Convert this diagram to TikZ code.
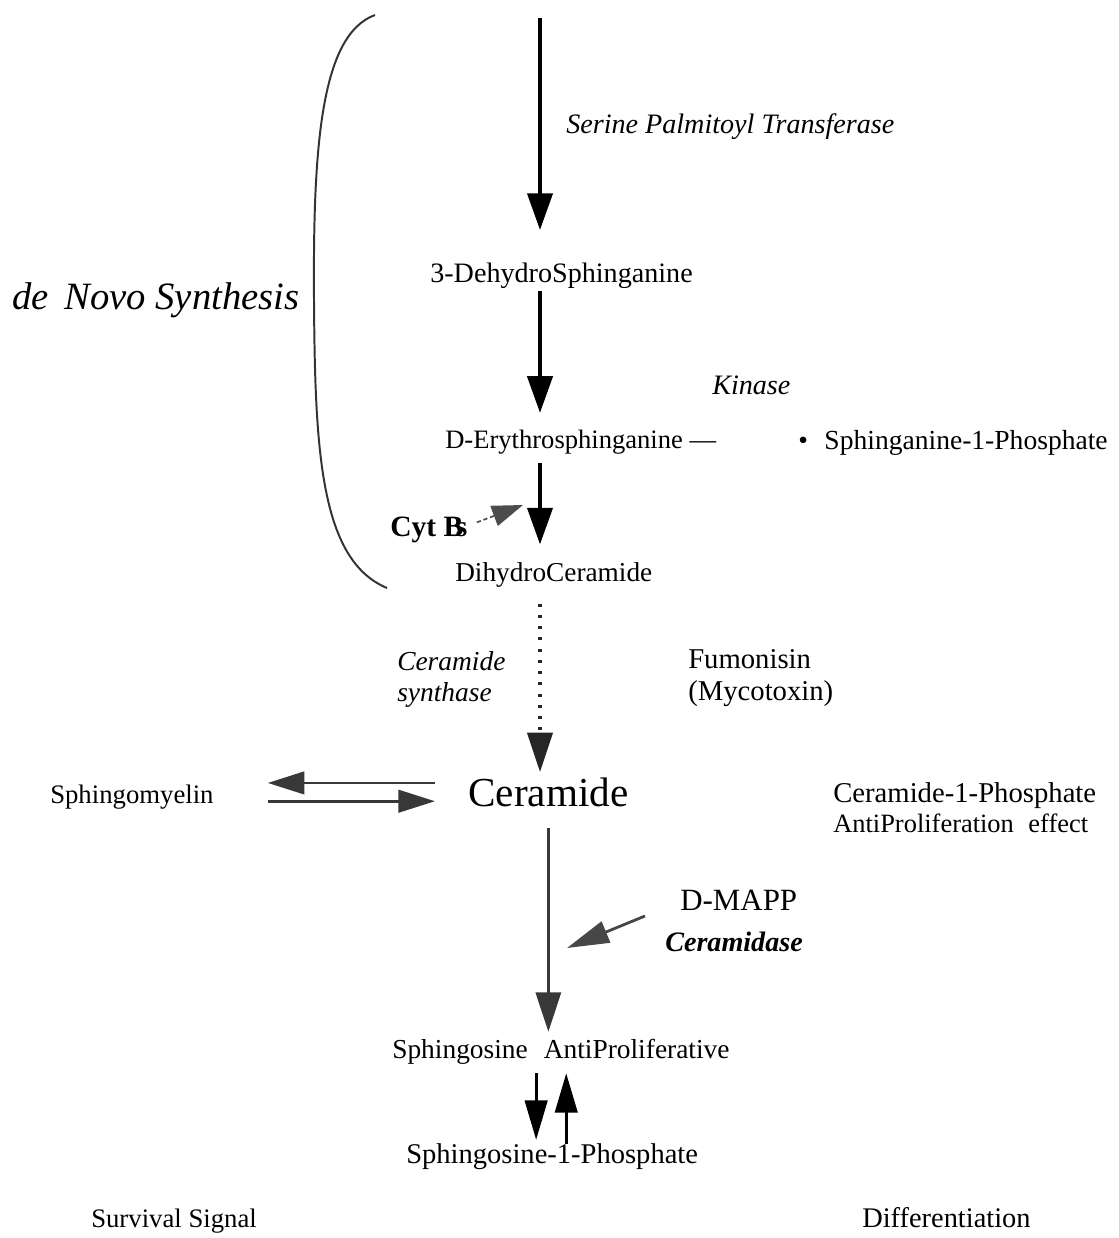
\documentclass[tikz,border=0pt]{standalone}
\usepackage{fontspec}
\setmainfont{Liberation Serif}
\usepackage{tikz}
\usetikzlibrary{arrows.meta,positioning,calc}

\begin{document}
\begin{tikzpicture}[
  x=0.025cm, y=-0.025cm,
  lab/.style={inner sep=0pt, anchor=west, execute at begin node={\vphantom{hg}}},
  multi/.style={inner sep=0pt, anchor=west, align=left},
  flow/.style={line width=2.2pt, draw=black, -{Triangle[length=26pt,width=18pt]}},
  dotflow/.style={line width=2.4pt, draw=black!85, dash pattern=on 2pt off 6pt,
    -{Triangle[length=28pt,width=18pt]}},
  grayflow/.style={line width=1.8pt, draw=black!78, -{Triangle[length=28pt,width=18pt]}},
  exch/.style={line width=2pt, draw=black!78, -{Triangle[length=26pt,width=16pt]}},
  pairflow/.style={line width=2pt, draw=black, -{Triangle[length=28pt,width=16pt]}},
  cytflow/.style={line width=1.2pt, draw=black!70, dash pattern=on 3pt off 2pt,
    -{Triangle[length=22pt,width=15pt]}},
  mappflow/.style={line width=2pt, draw=black!72, -{Triangle[length=30pt,width=16pt]}}
]
\useasboundingbox (0,0) rectangle (1119,1238);

% pathway names
\node[lab, font=\fontsize{20}{24}\selectfont\itshape] (spt) at (566,127) {Serine Palmitoyl Transferase};
\node[lab, font=\fontsize{20}{24}\selectfont] (dehydro) at (430,276) {3-DehydroSphinganine};
\node[lab, font=\fontsize{20}{24}\selectfont\itshape] (kinase) at (712,388) {Kinase};
\node[lab, font=\fontsize{18.9}{23}\selectfont] (erythro) at (445,442) {D-Erythrosphinganine —};
\node[lab, font=\fontsize{19.6}{23}\selectfont] (sa1p) at (798,443) {\textbullet\hspace{0.6em}Sphinganine-1-Phosphate};
\node[lab, font=\fontsize{21}{25}\selectfont\bfseries] (cytbs) at (390,530) {Cyt B\kern-0.25em s};
\node[lab, font=\fontsize{19.4}{23}\selectfont] (dihydro) at (455,575) {DihydroCeramide};
\node[multi, font=\fontsize{19.5}{22}\selectfont\itshape] (cersyn) at (397,679) {Ceramide\\synthase};
\node[multi, font=\fontsize{20.4}{23}\selectfont] (fumonisin) at (688,678) {Fumonisin\\(Mycotoxin)};
\node[lab, font=\fontsize{29.3}{34}\selectfont] (ceramide) at (468,797) {Ceramide};
\node[lab, font=\fontsize{19}{23}\selectfont] (sphingo) at (50,797) {Sphingomyelin};
\node[lab, font=\fontsize{20.4}{24}\selectfont] (c1p) at (833,796) {Ceramide-1-Phosphate};
\node[lab, font=\fontsize{18.8}{22}\selectfont] (c1peff) at (833,826) {AntiProliferation\hspace{0.55em}effect};
\node[lab, font=\fontsize{22}{26}\selectfont] (dmapp) at (680,903) {D-MAPP};
\node[lab, font=\fontsize{20}{24}\selectfont\bfseries\itshape] (ceramidase) at (665,945) {Ceramidase};
\node[lab, font=\fontsize{19.5}{23}\selectfont] (sphingosine) at (392,1052) {Sphingosine\hspace{0.58em}AntiProliferative};
\node[lab, font=\fontsize{20.3}{24}\selectfont] (s1p) at (406,1157) {Sphingosine-1-Phosphate};
\node[lab, font=\fontsize{19}{23}\selectfont] (survival) at (91,1221) {Survival Signal};
\node[lab, font=\fontsize{20.2}{24}\selectfont] (diff) at (862,1221) {Differentiation};
\node[lab, font=\fontsize{27.5}{32}\selectfont\itshape] (denovo) at (12,300) {de\hspace{0.4em}Novo Synthesis};

% bracket round the de novo steps
\draw[line width=1.4pt, black!80] (375,15) .. controls (320,35) and (313,150) .. (314,300)
  .. controls (315,450) and (320,560) .. (387,588);

% main chain
\coordinate (src) at (540,18);
\draw[flow, shorten >=23.5pt] (src) -- (src |- dehydro.north);
\draw[flow, shorten <=1.5pt, shorten >=12pt] (dehydro.south -| src) -- (erythro.north -| src);
\draw[flow, shorten <=6.4pt, shorten >=12.8pt] (erythro.south -| src) -- (dihydro.north -| src);
\draw[dotflow, shorten <=11.4pt, shorten >=4.3pt] (dihydro.south -| src) -- (ceramide.north -| src);
\draw[grayflow, shorten <=8.2pt, shorten >=5.3pt] (ceramide.south) -- (sphingosine.north -| ceramide.south);

% sphingomyelin exchange
\draw[exch, shorten <=23.5pt, shorten >=38.4pt] ([yshift=10pt]ceramide.west) -- ([yshift=10pt]sphingo.east);
\draw[exch, shorten <=38.4pt, shorten >=23.5pt] ([yshift=-3pt]sphingo.east) -- ([yshift=-3pt]ceramide.west);

% side inputs
\coordinate (cytTip) at (523,505);
\draw[cytflow, shorten <=7pt] ([yshift=3pt]cytbs.east) -- (cytTip);
\coordinate (mappTip) at (567,948);
\draw[mappflow] ($(dmapp.west)+(-35,13)$) -- (mappTip);

% sphingosine <-> S1P
\coordinate (dn) at ([xshift=-11.4pt]s1p.north);
\coordinate (up) at ([xshift=10pt]s1p.north);
\draw[pairflow, shorten <=6pt, shorten >=2.8pt] (sphingosine.south -| dn) -- (dn);
\draw[pairflow, shorten >=6pt] (up) -- (sphingosine.south -| up);
\end{tikzpicture}
\end{document}
